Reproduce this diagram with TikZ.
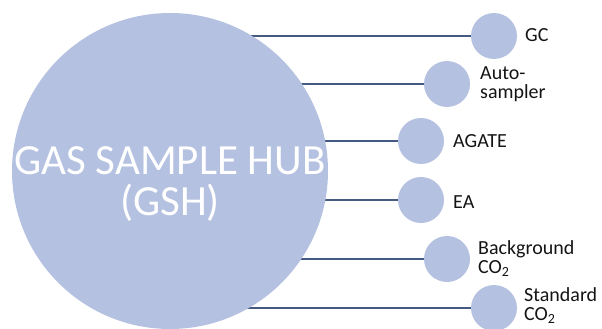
\documentclass[tikz,border=0pt]{standalone}
\usepackage{fontspec}
\setmainfont{Carlito}
\usetikzlibrary{backgrounds}

\definecolor{hubfill}{RGB}{180,193,224}
\definecolor{linkline}{RGB}{68,90,128}
\definecolor{labeltext}{RGB}{20,20,20}

\begin{document}
\begin{tikzpicture}[x=1pt,y=-1pt,
  hubnode/.style={circle,fill=hubfill,inner sep=0pt,minimum size=316pt},
  device/.style={circle,fill=hubfill,inner sep=0pt,minimum size=46pt},
  devlabel/.style={anchor=base west,inner sep=0pt,align=left,text=labeltext,
    font=\fontsize{20}{18.5}\selectfont},
  hubtitle/.style={anchor=base,inner sep=0pt,align=center,text=white,
    font=\fontsize{43}{41}\selectfont},
  link/.style={draw=linkline,line width=1.8pt}]

  \useasboundingbox (0,0) rectangle (602,329);

  % central hub (multi-line nodes sit on the baseline of their last line)
  \node[hubnode] (hub) at (170,171) {};
  \node[hubtitle] (hubtxt) at (170,215) {GAS SAMPLE HUB\\(GSH)};

  % connected instruments
  \node[device] (gc)   at (494,36)  {};
  \node[device] (auto) at (447,84)  {};
  \node[device] (agate) at (421,141) {};
  \node[device] (ea)   at (421,200) {};
  \node[device] (bg)   at (447,259) {};
  \node[device] (std)  at (494,308) {};

  \node[devlabel] (gcl)   at (525,42)  {GC};
  \node[devlabel] (autol) at (480,98)  {Auto-\\sampler};
  \node[devlabel] (agatel) at (453,147) {AGATE};
  \node[devlabel] (eal)   at (453,208) {EA};
  \node[devlabel] (bgl)   at (478,273) {Background\\CO\textsubscript{2}};
  \node[devlabel] (stdl)  at (524,320) {Standard\\CO\textsubscript{2}};

  % links run behind the circles, so they show only between them
  \begin{scope}[on background layer]
    \foreach \d in {gc,auto,agate,ea,bg,std}
      \draw[link] (hub.center |- \d.center) -- (\d.center);
  \end{scope}
\end{tikzpicture}
\end{document}
